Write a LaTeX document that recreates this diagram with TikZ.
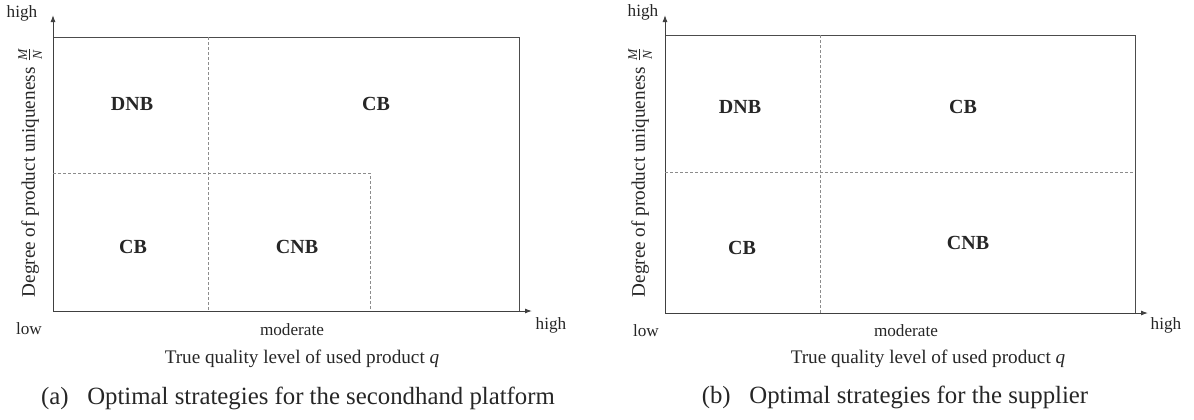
\documentclass[tikz,border=0pt]{standalone}
\usepackage{amsmath}
\usepackage{fontspec}
\setmainfont{Liberation Serif}
\usetikzlibrary{arrows.meta}
\tikzset{
  frameline/.style={draw=black!70, line width=0.5pt},
  axisline/.style={draw=black!75, line width=0.5pt, -{Latex[length=3.5pt,width=2.5pt]}},
  splitline/.style={draw=black!45, line width=0.45pt, dash pattern=on 1.5pt off 1pt},
  region/.style={font=\fontsize{10}{12}\selectfont\bfseries, text=black!85, inner sep=0.75pt},
  endlabel/.style={font=\fontsize{8.6}{10}\selectfont, text=black!85, inner sep=0.75pt},
  axislabel/.style={font=\fontsize{9.6}{11}\selectfont, text=black!85, inner sep=0.75pt},
  caption/.style={font=\fontsize{12.4}{14}\selectfont, text=black!85, inner sep=0.75pt}
}
\begin{document}
\begin{tikzpicture}[x=0.5pt,y=0.5pt,yscale=-1,xscale=1]
\useasboundingbox (0,0) rectangle (1194,419);

%Panel (a): frame and axes
\draw [frameline] (53,37) -- (519,37) -- (519,311) ;
\draw [axisline] (53,311) -- (53,15) ;
\draw [axisline] (53,311) -- (532,311) ;
%Panel (a): region borders
\draw [splitline] (208,37) -- (208,311) ;
\draw [splitline] (53,173) -- (370,173) -- (370,311) ;

%Panel (b): frame and axes
\draw [frameline] (665,35) -- (1135,35) -- (1135,313) ;
\draw [axisline] (665,313) -- (665,15) ;
\draw [axisline] (665,313) -- (1148,313) ;
%Panel (b): region borders
\draw [splitline] (820,35) -- (820,313) ;
\draw [splitline] (665,172) -- (1135,172) ;

% Text Node
\node [region] (aDNB) at (132,104) {DNB};
% Text Node
\node [region] (aCBtop) at (376,104) {CB};
% Text Node
\node [region] (aCBlow) at (133,247) {CB};
% Text Node
\node [region] (aCNB) at (297,247) {CNB};
% Text Node
\node [endlabel] (aYhigh) at (22,13) {high};
% Text Node
\node [endlabel] (aXlow) at (29,329) {low};
% Text Node
\node [endlabel] (aXmid) at (292,330) {moderate};
% Text Node
\node [endlabel] (aXhigh) at (551,325) {high};
% Text Node
\node [axislabel] (aXlabel) at (302,359) {True quality level of used product \textit{q}};
% Text Node
\node [axislabel, rotate=90] (aYlabel) at (30,172) {Degree of product uniqueness $\frac{\textit{M}}{\textit{N}}$};
% Text Node
\node [caption] (aCaption) at (298,398) {(a)\hspace{0.75em}Optimal strategies for the secondhand platform};

% Text Node
\node [region] (bDNB) at (740,107) {DNB};
% Text Node
\node [region] (bCBtop) at (963,107) {CB};
% Text Node
\node [region] (bCBlow) at (742,248) {CB};
% Text Node
\node [region] (bCNB) at (968,243) {CNB};
% Text Node
\node [endlabel] (bYhigh) at (643,12) {high};
% Text Node
\node [endlabel] (bXlow) at (646,331) {low};
% Text Node
\node [endlabel] (bXmid) at (906,331) {moderate};
% Text Node
\node [endlabel] (bXhigh) at (1166,325) {high};
% Text Node
\node [axislabel] (bXlabel) at (928,359) {True quality level of used product \textit{q}};
% Text Node
\node [axislabel, rotate=90] (bYlabel) at (640,172) {Degree of product uniqueness $\frac{\textit{M}}{\textit{N}}$};
% Text Node
\node [caption] (bCaption) at (895,397) {(b)\hspace{0.75em}Optimal strategies for the supplier};

\end{tikzpicture}
\end{document}
